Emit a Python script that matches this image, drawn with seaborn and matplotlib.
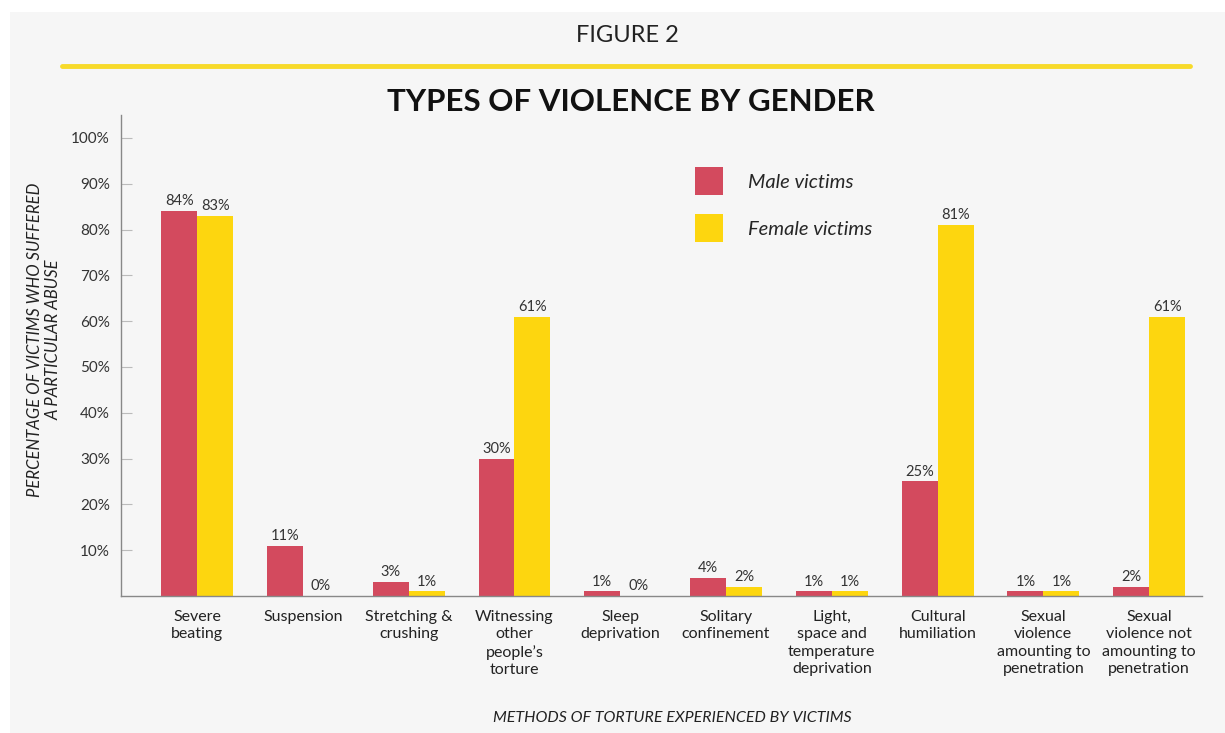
import matplotlib
matplotlib.use("Agg")
import matplotlib.pyplot as plt
import seaborn as sns
import pandas as pd
from matplotlib.patches import Rectangle, Patch
from matplotlib.lines import Line2D

categories = [
    "Severe\nbeating",
    "Suspension",
    "Stretching &\ncrushing",
    "Witnessing\nother\npeople\u2019s\ntorture",
    "Sleep\ndeprivation",
    "Solitary\nconfinement",
    "Light,\nspace and\ntemperature\ndeprivation",
    "Cultural\nhumiliation",
    "Sexual\nviolence\namounting to\npenetration",
    "Sexual\nviolence not\namounting to\npenetration",
]
male_values = [84, 11, 3, 30, 1, 4, 1, 25, 1, 2]
female_values = [83, 0, 1, 61, 0, 2, 1, 81, 1, 61]
series_names = ["Male victims", "Female victims"]
yticks = [10, 20, 30, 40, 50, 60, 70, 80, 90, 100]
ytick_labels = ["10%", "20%", "30%", "40%", "50%", "60%", "70%", "80%", "90%", "100%"]

MALE_COLOR = "#d34a5e"
FEMALE_COLOR = "#fdd60f"
BG = "#f6f6f6"

df = pd.DataFrame({
    "category": categories * 2,
    "value": male_values + female_values,
    "series": [series_names[0]] * len(categories) + [series_names[1]] * len(categories),
})

sns.set_theme(style="white")
plt.rcParams["font.family"] = ["Lato", "DejaVu Sans"]

W, H = 1225, 733
fig = plt.figure(figsize=(W / 100, H / 100), dpi=100)
fig.patch.set_facecolor("white")
fig.patches.append(Rectangle((10 / W, 0), 1, 1 - 12 / H, transform=fig.transFigure,
                             facecolor=BG, edgecolor="none", zorder=-10))

ax = fig.add_axes([121 / W, 1 - 596 / H, (1202 - 121) / W, (596 - 115) / H])
ax.set_facecolor(BG)

sns.barplot(data=df, x="category", y="value", hue="series", order=categories,
            hue_order=series_names, palette={series_names[0]: MALE_COLOR, series_names[1]: FEMALE_COLOR},
            width=0.68, gap=0, saturation=1, ax=ax, legend=False, linewidth=0, edgecolor="none")

for cont in ax.containers:
    ax.bar_label(cont, labels=[f"{int(round(v.get_height()))}%" for v in cont],
                 padding=2, fontsize=10.5, color="#333333")

ax.set_ylim(0, 105)
ax.set_xlim(-0.72, 9.5)
ax.set_yticks(yticks)
ax.set_yticklabels(ytick_labels, fontsize=11, color="#333333")
ax.tick_params(axis="y", direction="in", length=8, color="#bbbbbb", width=0.8, pad=8, left=True)
ax.tick_params(axis="x", length=0, pad=10)
for lbl in ax.get_xticklabels():
    lbl.set_fontsize(11.5)
    lbl.set_color("#222222")
    lbl.set_va("top")
    lbl.set_linespacing(1.31)

for s in ["top", "right"]:
    ax.spines[s].set_visible(False)
for s in ["left", "bottom"]:
    ax.spines[s].set_color("#888888")
    ax.spines[s].set_linewidth(1.0)

ax.set_xlabel("")
ax.set_ylabel("")
fig.text(44 / W, 1 - 340 / H, "PERCENTAGE OF VICTIMS WHO SUFFERED\nA PARTICULAR ABUSE",
         rotation=90, ha="center", va="center", fontsize=12, style="italic",
         color="#222222", linespacing=1.2)
fig.text(672 / W, 1 - 718 / H, "METHODS OF TORTURE EXPERIENCED BY VICTIMS",
         ha="center", va="center", fontsize=11.5, style="italic", color="#222222")

fig.text(627 / W, 1 - 36 / H, "FIGURE 2", ha="center", va="center",
         fontsize=17, fontweight="normal", color="#222222")
fig.add_artist(Line2D([62 / W, 1190 / W], [1 - 66 / H, 1 - 66 / H], transform=fig.transFigure,
                      color="#f7da2a", linewidth=3.5))
fig.text(631 / W, 1 - 102 / H, "TYPES OF VIOLENCE BY GENDER", ha="center", va="center",
         fontsize=22.5, fontweight="bold", color="#111111")

handles = [Patch(facecolor=MALE_COLOR, edgecolor="none"),
           Patch(facecolor=FEMALE_COLOR, edgecolor="none")]
leg = ax.legend(handles, series_names, loc="upper left",
                bbox_to_anchor=(685 / W, 1 - 157 / H), bbox_transform=fig.transFigure,
                frameon=False, prop={"style": "italic", "size": 14.5, "family": ["Lato", "DejaVu Sans"]},
                handlelength=1.4, handleheight=1.77, handletextpad=1.25, labelspacing=0.95,
                borderpad=0)

fig.savefig("out.png", dpi=100, facecolor=fig.get_facecolor())
